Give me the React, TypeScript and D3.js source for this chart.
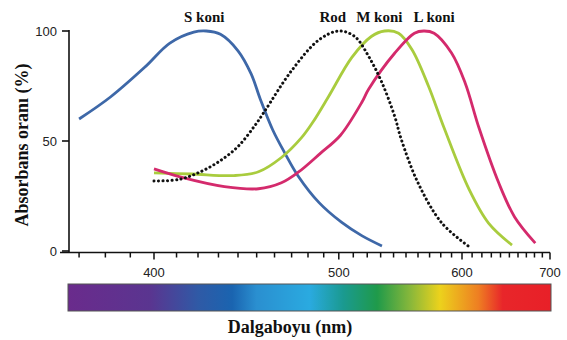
import * as d3 from 'd3';
import React from 'react';

// wavelengths (nm) and absorbance (%)
const sWave = [370, 382, 396, 407, 418, 424, 431, 440, 447, 452, 459, 466, 474, 487, 502, 516, 531];
const sVal = [60, 70, 83.5, 94.5, 99.5, 100, 98.5, 91, 80.5, 69, 55, 44.5, 34, 22, 13, 7, 2.3];

const rodWave = [400, 411, 420, 430, 440, 449, 454, 470, 487, 500, 511, 521, 531, 541, 546, 560, 581, 606];
const rodVal = [31.8, 32.5, 35.5, 40.5, 47.5, 57, 63, 82, 96, 100, 97.5, 88.5, 76.5, 61, 51, 31, 12.7, 2.3];

const mWave = [400, 417, 438, 451, 464, 476, 483, 493, 509, 523, 533, 544, 555, 569, 583, 607, 627, 653];
const mVal = [35.5, 35, 34.3, 36, 42.5, 51.5, 58.5, 70, 88, 97.5, 100, 99, 91.5, 75, 56, 28, 12.7, 2.7];

const lWave = [400, 412, 433, 451, 464, 474, 488, 501, 516, 521, 541, 557, 565, 574, 590, 603, 617, 638, 656, 681];
const lVal = [37.3, 33.6, 29.3, 28.3, 31, 35.8, 44.5, 52.5, 67.5, 73.5, 90, 99, 100, 99, 90, 76.5, 56, 31, 15.5, 3.6];

const curveLabels = [
  { text: 'S koni', wave: 423 },
  { text: 'Rod', wave: 496 },
  { text: 'M koni', wave: 529 },
  { text: 'L koni', wave: 574 },
];

const yTicks = [0, 50, 100];
const xMajor = [400, 500, 600, 700];
const xMinor = d3.range(370, 701, 10);

const specStops = [0, 0.17, 0.27, 0.34, 0.39, 0.5, 0.57, 0.64, 0.71, 0.77, 0.85, 0.9, 1];
const specColors = ['#6a2b8c', '#5a3590', '#2f5aa6', '#1a64b0', '#2a8fd0', '#2aaae0', '#1a9a90', '#1f9a4a', '#8ab83a', '#ecd21c', '#ee7e22', '#e8262a', '#e82028'];

export default function App() {
  // the wavelength axis is linear in 1/wavelength
  const inv = d3.scaleLinear().domain([1 / 400, 1 / 700]).range([154, 550]);
  const x = (w: number) => inv(1 / w);
  const y = d3.scaleLinear().domain([0, 100]).range([251, 31]);

  const line = (ws: number[], vs: number[]) =>
    d3.line<number>()
      .x((w) => x(w))
      .y((_, i) => y(vs[i]))
      .curve(d3.curveCatmullRom.alpha(0.5))(ws) || '';

  const serif = '"Liberation Serif", "Times New Roman", serif';
  const sans = '"Liberation Sans", Arial, sans-serif';
  const baseY = 252.5;

  return (
    <svg width={567} height={340} style={{ position: 'absolute', left: 0, top: 0 }}>
      <defs>
        <linearGradient id="spec" x1="0" x2="1" y1="0" y2="0">
          {specStops.map((s, i) => (
            <stop key={i} offset={s} stopColor={specColors[i]} />
          ))}
        </linearGradient>
      </defs>
      <rect width={567} height={340} fill="#fff" />

      {/* axes */}
      <line x1={69} x2={69} y1={30} y2={baseY} stroke="#111" strokeWidth={1.6} />
      <line x1={60} x2={x(700)} y1={baseY} y2={baseY} stroke="#111" strokeWidth={1.6} />
      {yTicks.map((t) => (
        <g key={t}>
          <line x1={62} x2={69} y1={y(t)} y2={y(t)} stroke="#111" strokeWidth={1.6} />
          <text x={57} y={y(t) + 4.5} textAnchor="end" fontFamily={sans} fontSize={13} fill="#222">{t}</text>
        </g>
      ))}
      {xMinor.map((t) => (
        <line key={t} x1={x(t)} x2={x(t)} y1={baseY} y2={xMajor.includes(t) ? baseY + 7 : baseY + 5} stroke="#111" strokeWidth={1.5} />
      ))}
      {xMajor.map((t) => (
        <text key={t} x={x(t)} y={277} textAnchor="middle" fontFamily={sans} fontSize={13} fill="#222">{t}</text>
      ))}

      {/* curves */}
      <path d={line(sWave, sVal)} fill="none" stroke="#3e68a8" strokeWidth={2.8} />
      <path d={line(mWave, mVal)} fill="none" stroke="#a9cc3e" strokeWidth={2.8} />
      <path d={line(lWave, lVal)} fill="none" stroke="#d42a6c" strokeWidth={2.8} />
      <path d={line(rodWave, rodVal)} fill="none" stroke="#111" strokeWidth={3} strokeDasharray="0.1 4.4" strokeLinecap="round" />

      {curveLabels.map((l) => (
        <text key={l.text} x={x(l.wave)} y={22} textAnchor="middle" fontFamily={serif} fontWeight="bold" fontSize={15} fill="#111">{l.text}</text>
      ))}

      {/* spectrum bar */}
      <rect x={68} y={284} width={483} height={27} fill="url(#spec)" stroke="#555" strokeWidth={1} />

      <text x={290} y={333} textAnchor="middle" fontFamily={serif} fontWeight="bold" fontSize={18} fill="#111">Dalgaboyu (nm)</text>
      <text transform="translate(28,145) rotate(-90)" textAnchor="middle" fontFamily={serif} fontWeight="bold" fontSize={18} fill="#111">Absorbans oranı (%)</text>
    </svg>
  );
}
